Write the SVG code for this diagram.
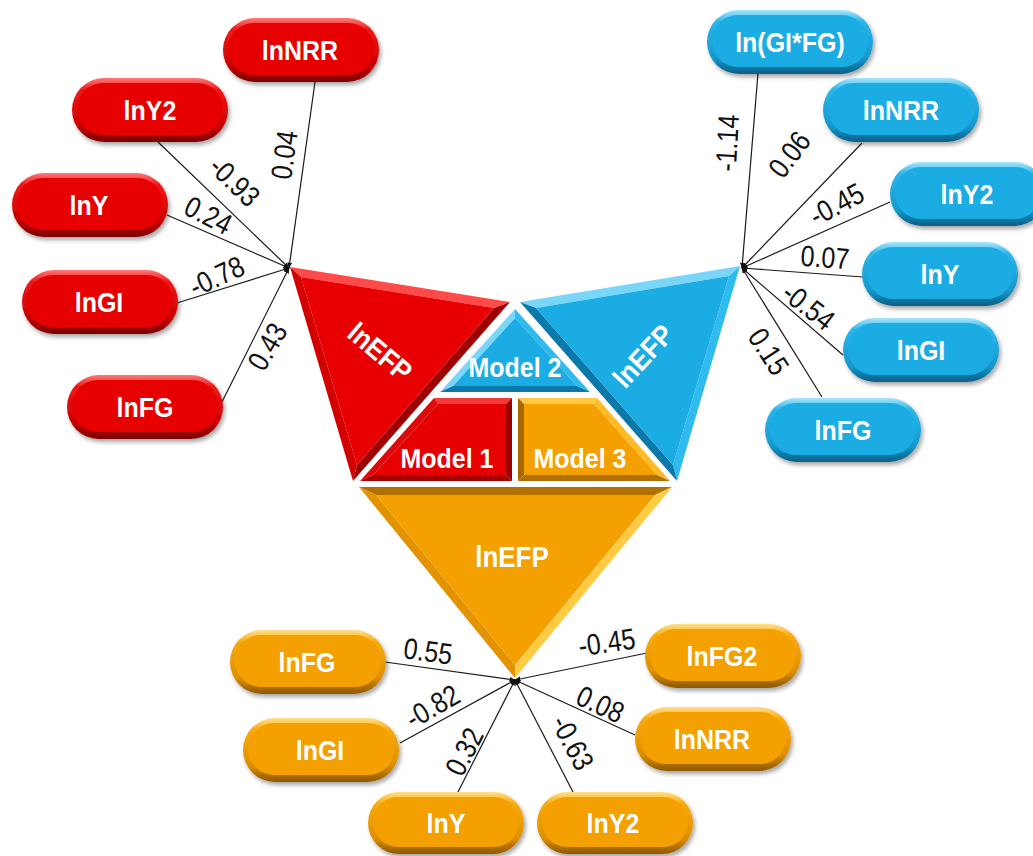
<svg xmlns="http://www.w3.org/2000/svg" width="1033" height="856" viewBox="0 0 1033 856">
<defs>
  <linearGradient id="gRed" x1="0" y1="0" x2="0" y2="1">
    <stop offset="0" stop-color="#FF7A7A"/><stop offset="0.18" stop-color="#F01818"/><stop offset="0.75" stop-color="#C80000"/><stop offset="1" stop-color="#7A0000"/>
  </linearGradient>
  <linearGradient id="gBlue" x1="0" y1="0" x2="0" y2="1">
    <stop offset="0" stop-color="#A8E6FC"/><stop offset="0.18" stop-color="#2DB6EA"/><stop offset="0.75" stop-color="#1598CC"/><stop offset="1" stop-color="#0A5F85"/>
  </linearGradient>
  <linearGradient id="gOrange" x1="0" y1="0" x2="0" y2="1">
    <stop offset="0" stop-color="#FFE08A"/><stop offset="0.18" stop-color="#F8AC10"/><stop offset="0.75" stop-color="#DC8E00"/><stop offset="1" stop-color="#8C5800"/>
  </linearGradient>
  <filter id="sh" x="-10%" y="-10%" width="125%" height="135%">
    <feDropShadow dx="2" dy="3" stdDeviation="2" flood-color="#000" flood-opacity="0.35"/>
  </filter>
  <marker id="arr" viewBox="0 0 10 10" refX="9" refY="5" markerWidth="6" markerHeight="6" orient="auto" markerUnits="userSpaceOnUse">
    <path d="M0,1 L10,5 L0,9 Z" fill="#111"/>
  </marker>
  <style>
    .o { filter: url(#sh); }
    .red .o { fill: url(#gRed); }
    .red .i { fill: #E60000; }
    .blue .o { fill: url(#gBlue); }
    .blue .i { fill: #1AACE2; }
    .orange .o { fill: url(#gOrange); }
    .orange .i { fill: #F4A000; }
    .node text { font-family: "Liberation Sans", Arial, sans-serif; font-weight: bold; font-size: 25px; fill: #fff; text-anchor: middle; transform-box: fill-box; transform-origin: center; transform: scale(1, 1.12); }
    .big { font-family: "Liberation Sans", Arial, sans-serif; font-weight: bold; font-size: 26px; fill: #fff; text-anchor: middle; }
    .edges line { stroke: #1a1a1a; stroke-width: 1.2; marker-end: url(#arr); }
    .w { font-family: "Liberation Sans", Arial, sans-serif; font-size: 25px; fill: #111; text-anchor: middle; }
  </style>
</defs>
<rect width="1033" height="856" fill="#fff"/>

<!-- central pieces -->
<g id="red-lnEFP">
  <polygon points="290,267 510,302 494,308 301,277" fill="#FF4A4A"/>
  <polygon points="510,302 353,481 357,465 494,308" fill="#9E0000"/>
  <polygon points="353,481 290,267 301,277 357,465" fill="#D40000"/>
  <polygon points="301,277 494,308 357,465" fill="#E80000"/>
  <text class="big" transform="translate(380,352) rotate(40) scale(1,1.1)" y="9">lnEFP</text>
</g>
<g id="blue-lnEFP">
  <polygon points="520,302 740,266 729,276 536,308" fill="#7AD6F8"/>
  <polygon points="740,266 677,481 673,465 729,276" fill="#30BBEE"/>
  <polygon points="677,481 520,302 536,308 673,465" fill="#0B78AA"/>
  <polygon points="536,308 729,276 673,465" fill="#1AACE2"/>
  <text class="big" transform="translate(643,356) rotate(-47) scale(1,1.1)" y="9">lnEFP</text>
</g>
<g id="orange-lnEFP">
  <polygon points="359,487 672,487 655,495 376,495" fill="#B27000"/>
  <polygon points="672,487 515,678 515,665 655,495" fill="#FFCB45"/>
  <polygon points="515,678 359,487 376,495 515,665" fill="#E39200"/>
  <polygon points="376,495 655,495 515,665" fill="#F4A000"/>
  <text class="big" transform="translate(512,557) scale(1,1.1)" y="9">lnEFP</text>
</g>
<g id="model2">
  <polygon points="515,309 440,392 453,386 515,318" fill="#7AD6F8"/>
  <polygon points="590,392 515,309 515,318 577,386" fill="#30BBEE"/>
  <polygon points="440,392 590,392 577,386 453,386" fill="#0B78AA"/>
  <polygon points="515,318 453,386 577,386" fill="#1AACE2"/>
  <text class="big" transform="translate(515,367) scale(1,1.1)" y="9" style="font-size:25px">Model 2</text>
</g>
<g id="model1">
  <polygon points="434,398 512,398 506,404 438,404" fill="#F23A3A"/>
  <polygon points="512,398 512,481 506,475 506,404" fill="#9A0000"/>
  <polygon points="512,481 360,481 373,475 506,475" fill="#A80000"/>
  <polygon points="360,481 434,398 438,404 373,475" fill="#DC0A0A"/>
  <polygon points="438,404 506,404 506,475 373,475" fill="#E60000"/>
  <text class="big" transform="translate(447,458) scale(1,1.1)" y="9" style="font-size:25px">Model 1</text>
</g>
<g id="model3">
  <polygon points="518,398 597,398 594,404 524,404" fill="#FFC845"/>
  <polygon points="597,398 670,481 657,475 594,404" fill="#FFBA25"/>
  <polygon points="670,481 518,481 524,475 657,475" fill="#B27000"/>
  <polygon points="518,481 518,398 524,404 524,475" fill="#A86800"/>
  <polygon points="524,404 594,404 657,475 524,475" fill="#F4A000"/>
  <text class="big" transform="translate(580,458) scale(1,1.1)" y="9" style="font-size:25px">Model 3</text>
</g>

<!-- connectors -->
<g id="connectors" class="edges">
  <line x1="315" y1="82" x2="289" y2="268"/>
  <line x1="158" y1="142" x2="289" y2="268"/>
  <line x1="167" y1="215" x2="289" y2="268"/>
  <line x1="177" y1="303" x2="289" y2="268"/>
  <line x1="222" y1="402" x2="289" y2="268"/>
  <line x1="758" y1="73" x2="742" y2="268"/>
  <line x1="862" y1="143" x2="742" y2="268"/>
  <line x1="890" y1="202" x2="742" y2="268"/>
  <line x1="863" y1="277" x2="742" y2="268"/>
  <line x1="843" y1="355" x2="742" y2="268"/>
  <line x1="822" y1="397" x2="742" y2="268"/>
  <line x1="385" y1="662" x2="515" y2="680"/>
  <line x1="400" y1="743" x2="515" y2="680"/>
  <line x1="458" y1="792" x2="515" y2="680"/>
  <line x1="647" y1="653" x2="515" y2="680"/>
  <line x1="635" y1="735" x2="515" y2="680"/>
  <line x1="573" y1="792" x2="515" y2="680"/>
  <g>
    <text class="w" transform="translate(285,155) rotate(-82) scale(1,1.18)" y="8">0.04</text>
    <text class="w" transform="translate(234,182) rotate(44) scale(1,1.18)" y="8">-0.93</text>
    <text class="w" transform="translate(208,216) rotate(27) scale(1,1.18)" y="8">0.24</text>
    <text class="w" transform="translate(217,277) rotate(-25) scale(1,1.18)" y="8">-0.78</text>
    <text class="w" transform="translate(268,347) rotate(-60) scale(1,1.18)" y="8">0.43</text>
    <text class="w" transform="translate(728,143) rotate(-87) scale(1,1.18)" y="8">-1.14</text>
    <text class="w" transform="translate(790,155) rotate(-53) scale(1,1.18)" y="8">0.06</text>
    <text class="w" transform="translate(837,205) rotate(-28) scale(1,1.18)" y="8">-0.45</text>
    <text class="w" transform="translate(825,258) rotate(4) scale(1,1.18)" y="8">0.07</text>
    <text class="w" transform="translate(808,307) rotate(38) scale(1,1.18)" y="8">-0.54</text>
    <text class="w" transform="translate(768,352) rotate(57) scale(1,1.18)" y="8">0.15</text>
    <text class="w" transform="translate(428,652) rotate(8) scale(1,1.18)" y="8">0.55</text>
    <text class="w" transform="translate(433,707) rotate(-30) scale(1,1.18)" y="8">-0.82</text>
    <text class="w" transform="translate(465,752) rotate(-63) scale(1,1.18)" y="8">0.32</text>
    <text class="w" transform="translate(607,643) rotate(-8) scale(1,1.18)" y="8">-0.45</text>
    <text class="w" transform="translate(600,705) rotate(25) scale(1,1.18)" y="8">0.08</text>
    <text class="w" transform="translate(572,743) rotate(62) scale(1,1.18)" y="8">-0.63</text>
  </g>
</g>

<!-- red nodes -->
<g id="red-lnNRR" class="node red" transform="translate(223,18)"><rect class="o" width="156" height="64" rx="32"/><rect class="i" x="5" y="5" width="146" height="52" rx="26"/><text x="77" y="41">lnNRR</text></g>
<g id="red-lnY2" class="node red" transform="translate(72,78)"><rect class="o" width="156" height="64" rx="32"/><rect class="i" x="5" y="5" width="146" height="52" rx="26"/><text x="78" y="41">lnY2</text></g>
<g id="red-lnY" class="node red" transform="translate(12,173)"><rect class="o" width="156" height="64" rx="32"/><rect class="i" x="5" y="5" width="146" height="52" rx="26"/><text x="77" y="41">lnY</text></g>
<g id="red-lnGI" class="node red" transform="translate(22,270)"><rect class="o" width="156" height="64" rx="32"/><rect class="i" x="5" y="5" width="146" height="52" rx="26"/><text x="77" y="41">lnGI</text></g>
<g id="red-lnFG" class="node red" transform="translate(67,375)"><rect class="o" width="156" height="64" rx="32"/><rect class="i" x="5" y="5" width="146" height="52" rx="26"/><text x="78" y="41">lnFG</text></g>

<!-- blue nodes -->
<g id="blue-lnGIFG" class="node blue" transform="translate(707,10)"><rect class="o" width="166" height="64" rx="32"/><rect class="i" x="5" y="5" width="156" height="52" rx="26"/><text x="83" y="41">ln(GI*FG)</text></g>
<g id="blue-lnNRR" class="node blue" transform="translate(823,78)"><rect class="o" width="156" height="64" rx="32"/><rect class="i" x="5" y="5" width="146" height="52" rx="26"/><text x="78" y="41">lnNRR</text></g>
<g id="blue-lnY2" class="node blue" transform="translate(890,162)"><rect class="o" width="156" height="64" rx="32"/><rect class="i" x="5" y="5" width="146" height="52" rx="26"/><text x="77" y="41">lnY2</text></g>
<g id="blue-lnY" class="node blue" transform="translate(862,242)"><rect class="o" width="156" height="64" rx="32"/><rect class="i" x="5" y="5" width="146" height="52" rx="26"/><text x="78" y="41">lnY</text></g>
<g id="blue-lnGI" class="node blue" transform="translate(843,318)"><rect class="o" width="156" height="64" rx="32"/><rect class="i" x="5" y="5" width="146" height="52" rx="26"/><text x="78" y="41">lnGI</text></g>
<g id="blue-lnFG" class="node blue" transform="translate(765,398)"><rect class="o" width="156" height="64" rx="32"/><rect class="i" x="5" y="5" width="146" height="52" rx="26"/><text x="78" y="41">lnFG</text></g>

<!-- orange nodes -->
<g id="orange-lnFG" class="node orange" transform="translate(230,630)"><rect class="o" width="156" height="64" rx="32"/><rect class="i" x="5" y="5" width="146" height="52" rx="26"/><text x="77" y="41">lnFG</text></g>
<g id="orange-lnGI" class="node orange" transform="translate(243,718)"><rect class="o" width="156" height="64" rx="32"/><rect class="i" x="5" y="5" width="146" height="52" rx="26"/><text x="77" y="41">lnGI</text></g>
<g id="orange-lnY" class="node orange" transform="translate(368,792)"><rect class="o" width="156" height="62" rx="31"/><rect class="i" x="5" y="5" width="146" height="50" rx="25"/><text x="78" y="40">lnY</text></g>
<g id="orange-lnY2" class="node orange" transform="translate(537,792)"><rect class="o" width="156" height="62" rx="31"/><rect class="i" x="5" y="5" width="146" height="50" rx="25"/><text x="76" y="40">lnY2</text></g>
<g id="orange-lnNRR" class="node orange" transform="translate(635,707)"><rect class="o" width="156" height="64" rx="32"/><rect class="i" x="5" y="5" width="146" height="52" rx="26"/><text x="77" y="41">lnNRR</text></g>
<g id="orange-lnFG2" class="node orange" transform="translate(645,624)"><rect class="o" width="156" height="64" rx="32"/><rect class="i" x="5" y="5" width="146" height="52" rx="26"/><text x="77" y="41">lnFG2</text></g>
</svg>
